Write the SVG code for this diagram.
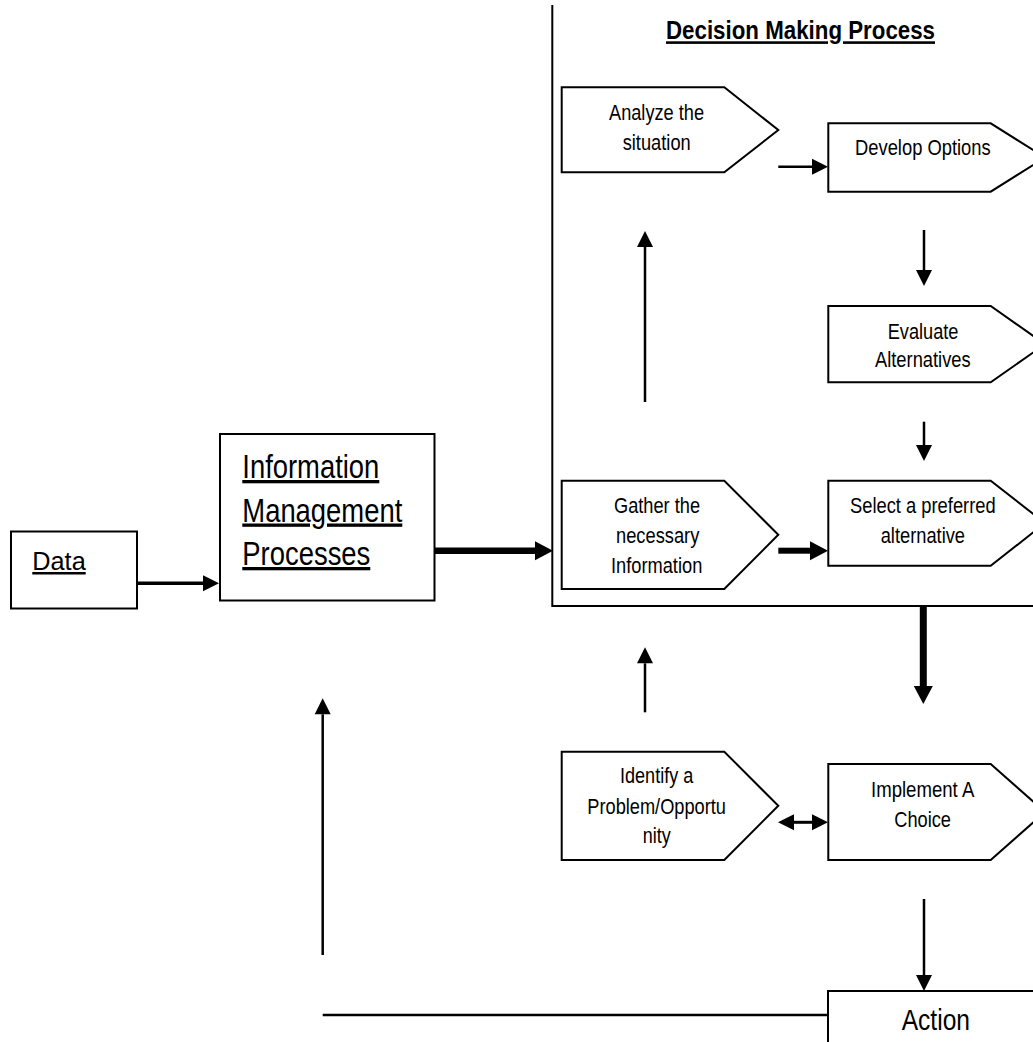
<svg xmlns="http://www.w3.org/2000/svg" width="1033" height="1042" viewBox="0 0 1033 1042">
<style>
.box{fill:#fff;stroke:#000;stroke-width:2}
.frame{fill:none;stroke:#000;stroke-width:2}
.t{font-family:'Liberation Sans Narrow','Arial Narrow','Liberation Sans',sans-serif;font-size:22px;fill:#000}
.big{font-size:33px;text-decoration:underline}
.data{font-family:'Liberation Sans',Arial,sans-serif;font-size:25px;text-decoration:underline;fill:#000}
.title{font-size:26px;font-weight:bold;text-decoration:underline}
.act{font-size:30px}
.c{stroke:#000;fill:none;stroke-width:2.5}
.ck{stroke:#000;fill:none;stroke-width:6.5}
</style>
<defs>
<marker id="a" markerUnits="userSpaceOnUse" markerWidth="16" markerHeight="16" viewBox="0 0 16 16" refX="0" refY="8" orient="auto-start-reverse" overflow="visible"><path d="M0,0 L16,8 L0,16 z" fill="#000"/></marker>
<marker id="A" markerUnits="userSpaceOnUse" markerWidth="18" markerHeight="19" viewBox="0 0 18 19" refX="0" refY="9.5" orient="auto" overflow="visible"><path d="M0,0 L18,9.5 L0,19 z" fill="#000"/></marker>
</defs>

<g id="data">
<rect class="box" x="11" y="531.5" width="126" height="77"/>
<text class="data" x="32.3" y="570" textLength="53.4" lengthAdjust="spacingAndGlyphs">Data</text>
</g>

<g id="info-mgmt">
<rect class="box" x="220" y="434" width="214.5" height="166.5"/>
<text class="t big" x="242.3" y="478" textLength="137" lengthAdjust="spacingAndGlyphs">Information</text>
<text class="t big" x="242.3" y="521.5" textLength="160" lengthAdjust="spacingAndGlyphs">Management</text>
<text class="t big" x="242.3" y="565" textLength="128" lengthAdjust="spacingAndGlyphs">Processes</text>
</g>

<g id="decision-process">
<path class="frame" d="M552.3,5 V606 H1040"/>
<text class="t title" x="666" y="39.3" textLength="269" lengthAdjust="spacingAndGlyphs">Decision Making Process</text>
</g>

<g id="analyze">
<polygon class="box" points="561.7,87.3 724.3,87.3 778.3,130 724.3,172.3 561.7,172.3"/>
<text class="t" x="609" y="119.5" textLength="95" lengthAdjust="spacingAndGlyphs">Analyze the</text>
<text class="t" x="622.7" y="150" textLength="68" lengthAdjust="spacingAndGlyphs">situation</text>
</g>

<g id="develop">
<polygon class="box" points="828.3,123.3 990.7,123.3 1045,157.5 990.7,191.7 828.3,191.7"/>
<text class="t" x="855" y="155" textLength="135.7" lengthAdjust="spacingAndGlyphs">Develop Options</text>
</g>

<g id="evaluate">
<polygon class="box" points="828.3,306 990.7,306 1045,344.2 990.7,382.3 828.3,382.3"/>
<text class="t" x="887.7" y="339.3" textLength="70.7" lengthAdjust="spacingAndGlyphs">Evaluate</text>
<text class="t" x="875" y="367.3" textLength="95.7" lengthAdjust="spacingAndGlyphs">Alternatives</text>
</g>

<g id="gather">
<polygon class="box" points="561.7,480.7 724.3,480.7 778.3,534.8 724.3,589 561.7,589"/>
<text class="t" x="614" y="512.7" textLength="86" lengthAdjust="spacingAndGlyphs">Gather the</text>
<text class="t" x="616" y="542.7" textLength="83.3" lengthAdjust="spacingAndGlyphs">necessary</text>
<text class="t" x="611" y="572.7" textLength="91.3" lengthAdjust="spacingAndGlyphs">Information</text>
</g>

<g id="select">
<polygon class="box" points="828.3,480.7 990.7,480.7 1045,523.2 990.7,565.7 828.3,565.7"/>
<text class="t" x="850" y="512.7" textLength="145.7" lengthAdjust="spacingAndGlyphs">Select a preferred</text>
<text class="t" x="880.7" y="542.7" textLength="84.3" lengthAdjust="spacingAndGlyphs">alternative</text>
</g>

<g id="identify">
<polygon class="box" points="561.7,751.7 724.3,751.7 778.3,805.8 724.3,860 561.7,860"/>
<text class="t" x="620" y="783.3" textLength="73.3" lengthAdjust="spacingAndGlyphs">Identify a</text>
<text class="t" x="587.3" y="814" textLength="138.7" lengthAdjust="spacingAndGlyphs">Problem/Opportu</text>
<text class="t" x="642.7" y="843.3" textLength="28" lengthAdjust="spacingAndGlyphs">nity</text>
</g>

<g id="implement">
<polygon class="box" points="828.3,764 990.7,764 1045,812 990.7,860 828.3,860"/>
<text class="t" x="871" y="796.7" textLength="103.3" lengthAdjust="spacingAndGlyphs">Implement A</text>
<text class="t" x="894.3" y="826.7" textLength="56.7" lengthAdjust="spacingAndGlyphs">Choice</text>
</g>

<g id="action">
<rect class="box" x="828" y="991" width="220" height="70"/>
<text class="t act" x="901.7" y="1030" textLength="68.3" lengthAdjust="spacingAndGlyphs">Action</text>
</g>

<g id="connectors">
<line class="c" x1="137" y1="583.3" x2="203" y2="583.3" style="stroke-width:3.5" marker-end="url(#a)"/>
<line class="ck" x1="434.5" y1="550.7" x2="535" y2="550.7" marker-end="url(#A)"/>
<line class="c" x1="778.3" y1="166.7" x2="812" y2="166.7" marker-end="url(#a)"/>
<line class="c" x1="924" y1="230" x2="924" y2="270" marker-end="url(#a)"/>
<line class="c" x1="924" y1="421.7" x2="924" y2="445" marker-end="url(#a)"/>
<line class="ck" x1="778.3" y1="550.7" x2="810" y2="550.7" style="stroke-width:6" marker-end="url(#A)"/>
<line class="c" x1="645" y1="402" x2="645" y2="247" marker-end="url(#a)"/>
<line class="ck" x1="923.3" y1="606" x2="923.3" y2="686" style="stroke-width:7" marker-end="url(#A)"/>
<line class="c" x1="645" y1="712.3" x2="645" y2="663.3" marker-end="url(#a)"/>
<line class="c" x1="794" y1="822.3" x2="812" y2="822.3" style="stroke-width:3" marker-start="url(#a)" marker-end="url(#a)"/>
<line class="c" x1="924" y1="899" x2="924" y2="975" marker-end="url(#a)"/>
<line class="c" x1="322.7" y1="1015" x2="828" y2="1015"/>
<line class="c" x1="322.7" y1="955" x2="322.7" y2="714.3" marker-end="url(#a)"/>
</g>
</svg>
